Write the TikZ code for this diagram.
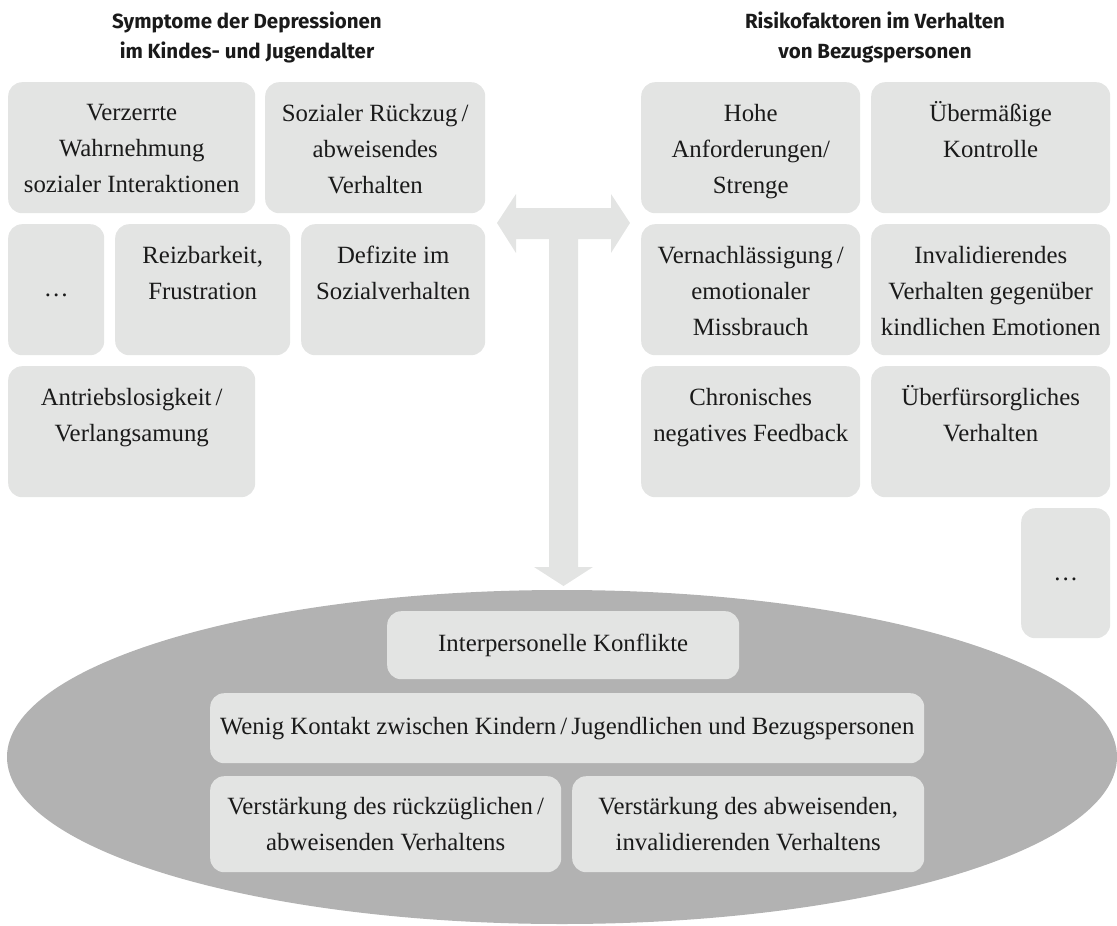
\documentclass[tikz,border=0pt]{standalone}
\usepackage{fontspec}
\setmainfont{Liberation Serif}
\newfontfamily\headfont{Fira Sans}
\definecolor{boxgray}{HTML}{E3E4E3}
\definecolor{ellgray}{HTML}{B2B2B2}
\definecolor{txtcol}{HTML}{1A1A1A}
\tikzset{
  box/.style={fill=boxgray, rounded corners=14pt, inner sep=0pt, anchor=north west},
  txt/.style={font=\fontsize{24.8}{36}\selectfont, text=txtcol, align=center, anchor=north, inner sep=0pt,
              execute at begin node={\rule{0pt}{30pt}}},
  ctxt/.style={font=\fontsize{24.8}{36}\selectfont, text=txtcol, align=center, inner sep=0pt},
  head/.style={font=\headfont\bfseries\fontsize{20.5}{30}\selectfont, text=txtcol, align=center, anchor=north, inner sep=0pt},
  bigarrow/.style={fill=boxgray}
}
\begin{document}
\begin{tikzpicture}[x=1pt, y=-1pt]
\useasboundingbox (0,0) rectangle (1117,926);

% ellipse
\fill[ellgray] (562,757) ellipse [x radius=555, y radius=167];

% big arrow (T-shaped)
\fill[bigarrow] (497,223) -- (516,194) -- (516,208) -- (611,208) -- (611,194) -- (630,223)
  -- (611,253) -- (611,239) -- (578,239) -- (578,567) -- (593,567) -- (563.5,586)
  -- (534,567) -- (549,567) -- (549,239) -- (516,239) -- (516,253) -- cycle;

% headers
\node[head] (hl) at (247,12) {Symptome der Depressionen\\im Kindes- und Jugendalter};
\node[head] (hr) at (875,12) {Risikofaktoren im Verhalten\\von Bezugspersonen};

% left group
\node[box, minimum width=247pt, minimum height=131pt] (l1) at (8,82) {};
\node[txt] (l1t) at ([yshift=-22pt]l1.north) {Verzerrte\\Wahrnehmung\\sozialer Interaktionen};
\node[box, minimum width=220pt, minimum height=131pt] (l2) at (265,82) {};
\node[txt] (l2t) at ([yshift=-22pt]l2.north) {Sozialer Rückzug\,/\\abweisendes\\Verhalten};
\node[box, minimum width=96pt, minimum height=131pt] (l3) at (8,224) {};
\node[ctxt] (l3t) at ([yshift=-6pt]l3.center) {…};
\node[box, minimum width=175pt, minimum height=131pt] (l4) at (115,224) {};
\node[txt] (l4t) at ([yshift=-22pt]l4.north) {Reizbarkeit,\\Frustration};
\node[box, minimum width=184pt, minimum height=131pt] (l5) at (301,224) {};
\node[txt] (l5t) at ([yshift=-22pt]l5.north) {Defizite im\\Sozialverhalten};
\node[box, minimum width=247pt, minimum height=131pt] (l6) at (8,366) {};
\node[txt] (l6t) at ([yshift=-22pt]l6.north) {Antriebslosigkeit\,/\\Verlangsamung};

% right group
\node[box, minimum width=219pt, minimum height=131pt] (r1) at (641,82) {};
\node[txt] (r1t) at ([yshift=-22pt]r1.north) {Hohe\\Anforderungen/\\Strenge};
\node[box, minimum width=239pt, minimum height=131pt] (r2) at (871,82) {};
\node[txt] (r2t) at ([yshift=-19pt]r2.north) {Übermäßige\\Kontrolle};
\node[box, minimum width=219pt, minimum height=131pt] (r3) at (641,224) {};
\node[txt] (r3t) at ([yshift=-22pt]r3.north) {Vernachlässigung\,/\\emotionaler\\Missbrauch};
\node[box, minimum width=239pt, minimum height=131pt] (r4) at (871,224) {};
\node[txt] (r4t) at ([yshift=-22pt]r4.north) {Invalidierendes\\Verhalten gegenüber\\kindlichen Emotionen};
\node[box, minimum width=219pt, minimum height=131pt] (r5) at (641,366) {};
\node[txt] (r5t) at ([yshift=-22pt]r5.north) {Chronisches\\negatives Feedback};
\node[box, minimum width=239pt, minimum height=131pt] (r6) at (871,366) {};
\node[txt] (r6t) at ([yshift=-19pt]r6.north) {Überfürsorgliches\\Verhalten};
\node[box, minimum width=89pt, minimum height=130pt] (r7) at (1021,508) {};
\node[ctxt] (r7t) at ([yshift=-6pt]r7.center) {…};

% inside ellipse
\node[box, minimum width=352pt, minimum height=68pt] (e1) at (387,611) {};
\node[ctxt] (e1t) at (e1.center) {Interpersonelle Konflikte};
\node[box, minimum width=714pt, minimum height=70pt] (e2) at (210,693) {};
\node[ctxt] (e2t) at (e2.center) {Wenig Kontakt zwischen Kindern\,/\,Jugendlichen und Bezugspersonen};
\node[box, minimum width=351pt, minimum height=96pt] (e3) at (210,776) {};
\node[ctxt] (e3t) at (e3.center) {Verstärkung des rückzüglichen\,/\\abweisenden Verhaltens};
\node[box, minimum width=352pt, minimum height=96pt] (e4) at (572,776) {};
\node[ctxt] (e4t) at (e4.center) {Verstärkung des abweisenden,\\invalidierenden Verhaltens};
\end{tikzpicture}
\end{document}
